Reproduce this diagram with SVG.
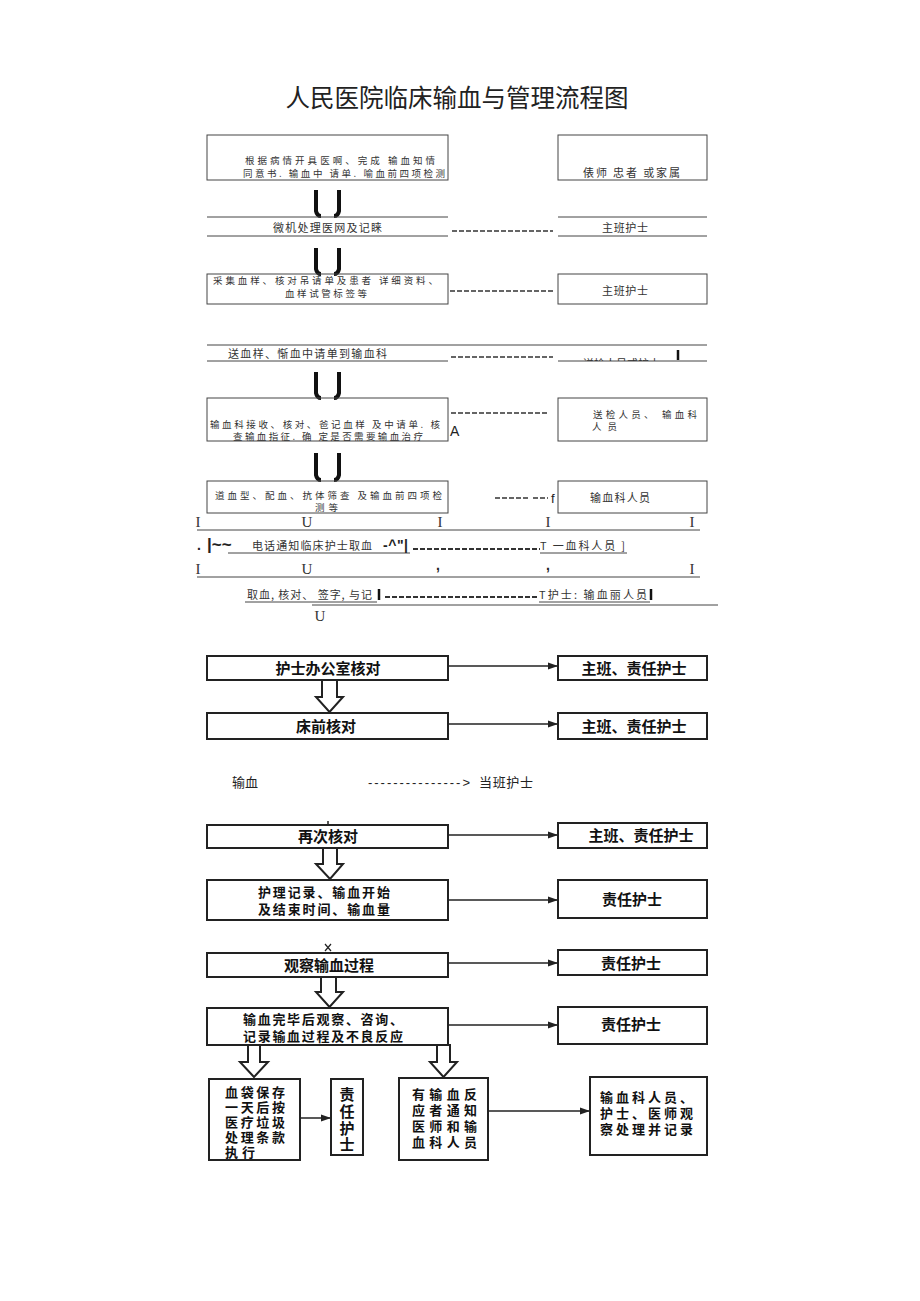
<svg xmlns="http://www.w3.org/2000/svg" width="920" height="1301" viewBox="0 0 920 1301">
<defs>
<marker id="ah" markerWidth="10" markerHeight="8" refX="9" refY="4" orient="auto" markerUnits="userSpaceOnUse">
<path d="M0,0.5 L10,4 L0,7.5 Z" fill="#222"/>
</marker>
<clipPath id="clip1"><rect x="550" y="340" width="160" height="21"/></clipPath>
</defs>
<style>
.t{font-family:"Noto Sans CJK SC","Noto Sans",sans-serif;font-size:11px;fill:#333}
.t2{font-family:"Noto Sans CJK SC","Noto Sans",sans-serif;font-size:9.5px;fill:#333}
.s{font-family:"Liberation Serif",serif;font-size:15px;fill:#333}
.l{font-family:"Liberation Sans",sans-serif;font-size:14px;fill:#222}
.h{font-family:"Noto Sans CJK SC",sans-serif;font-size:13px;fill:#222}
.b{font-family:"Noto Sans CJK SC",sans-serif;font-size:15px;font-weight:bold;fill:#111}
.b2{font-family:"Noto Sans CJK SC",sans-serif;font-size:13px;font-weight:bold;fill:#111}
.bx{fill:none;stroke:#444;stroke-width:1}
.ln{stroke:#444;stroke-width:1}
.ds{stroke:#333;stroke-width:1.5;stroke-dasharray:5 2}
.ua{fill:none;stroke:#111;stroke-width:4}
.bb{fill:#fff;stroke:#222;stroke-width:2}
.ha{fill:#fff;stroke:#222;stroke-width:2}
.ar{stroke:#222;stroke-width:1.5;fill:none;marker-end:url(#ah)}
.bar{stroke:#111;stroke-width:2.5}
</style>
<rect width="920" height="1301" fill="#fff"/>
<text id="title" x="457" y="107" text-anchor="middle" style="font-family:'Noto Sans CJK SC',sans-serif;font-size:24.5px;fill:#222">人民医院临床输血与管理流程图</text>

<g id="connectors">
  <path class="ua" d="M316,190 L316,211 Q317,216 321,216 M339,190 L339,211 Q338,216 334,216"/>
  <path class="ua" d="M316,248 L316,269 Q317,274 321,274 M339,248 L339,269 Q338,274 334,274"/>
  <path class="ua" d="M316,372 L316,393 Q317,398 321,398 M339,372 L339,393 Q338,398 334,398"/>
  <path class="ua" d="M316,453 L316,475 Q317,480 321,480 M339,453 L339,475 Q338,480 334,480"/>
  <line class="ds" x1="452" y1="231" x2="553" y2="231"/>
  <line class="ds" x1="450" y1="291" x2="553" y2="291"/>
  <line class="ds" x1="451" y1="357" x2="553" y2="357"/>
  <line class="ds" x1="451" y1="413" x2="547" y2="413"/>
  <line class="ds" x1="495" y1="498" x2="528" y2="498"/>
  <line class="ds" x1="533" y1="498" x2="548" y2="498"/>
  <line class="ds" x1="413" y1="549" x2="540" y2="549" style="stroke-width:2"/>
  <line class="ds" x1="385" y1="597" x2="538" y2="597" style="stroke-width:2"/>
  <polygon class="ha" points="322,680 337,680 337,697 343,697 329.5,712 316,697 322,697"/>
  <polygon class="ha" points="323,848 337,848 337,864 343,864 330,879 316,864 323,864"/>
  <polygon class="ha" points="321,977 336,977 336,992 343,992 329.5,1007 316,992 321,992"/>
  <polygon class="ha" points="248,1045 260,1045 260,1062 268,1062 254,1077 240,1062 248,1062"/>
  <polygon class="ha" points="437,1045 450,1045 450,1062 457,1062 443.5,1077 430,1062 437,1062"/>
  <line class="ar" x1="449" y1="666" x2="557" y2="666"/>
  <line class="ar" x1="449" y1="724" x2="557" y2="724"/>
  <line class="ar" x1="449" y1="835" x2="557" y2="835"/>
  <line class="ar" x1="449" y1="900" x2="557" y2="900"/>
  <line class="ar" x1="449" y1="963" x2="557" y2="963"/>
  <line class="ar" x1="449" y1="1025" x2="557" y2="1025"/>
  <line class="ar" x1="301" y1="1118" x2="330" y2="1118"/>
  <line class="ar" x1="489" y1="1111" x2="589" y2="1111"/>
  <line stroke="#222" stroke-width="1.5" x1="328" y1="821" x2="328" y2="825"/>
  <path d="M325,944 L331,951 M331,944 L325,951" stroke="#222" stroke-width="1.2" fill="none"/>
</g>

<g id="n1">
  <rect class="bx" x="207" y="135" width="241" height="45"/>
  <text class="t2" x="245" y="164" textLength="190" lengthAdjust="spacing">根据病情开具医啊、完成 输血知情</text>
  <text class="t2" x="243" y="177" textLength="202" lengthAdjust="spacing">同意书. 输血中 请单. 喻血前四项检测</text>
</g>
<g id="n1r">
  <rect class="bx" x="558" y="135" width="149" height="45"/>
  <text class="t" x="583" y="177" textLength="97" lengthAdjust="spacing">俵师 忠者 或家属</text>
</g>
<g id="n2">
  <line class="ln" x1="207" y1="217" x2="448" y2="217"/>
  <line class="ln" x1="207" y1="236" x2="448" y2="236"/>
  <text class="t" x="273" y="232" textLength="109" lengthAdjust="spacing">微机处理医网及记睐</text>
</g>
<g id="n2r">
  <line class="ln" x1="558" y1="217" x2="707" y2="217"/>
  <line class="ln" x1="558" y1="236" x2="707" y2="236"/>
  <text class="t" x="602" y="232" textLength="46" lengthAdjust="spacing">主班护士</text>
</g>
<g id="n3">
  <rect class="bx" x="207" y="274" width="241" height="30"/>
  <text class="t2" x="213" y="284" textLength="225" lengthAdjust="spacing">采集血样、核对吊请单及患者 详细资料、</text>
  <text class="t2" x="285" y="297" textLength="82" lengthAdjust="spacing">血样试管标签等</text>
</g>
<g id="n3r">
  <rect class="bx" x="558" y="274" width="149" height="30"/>
  <text class="t" x="602" y="295" textLength="46" lengthAdjust="spacing">主班护士</text>
</g>
<g id="n4">
  <line class="ln" x1="207" y1="345" x2="707" y2="345"/>
  <line class="ln" x1="207" y1="361" x2="448" y2="361"/>
  <text class="t" x="228" y="358" textLength="159" lengthAdjust="spacing">送血样、惭血中请单到输血科</text>
</g>
<g id="n4r">
  <line class="ln" x1="558" y1="361" x2="707" y2="361"/>
  <text class="t" x="583" y="368" textLength="77" lengthAdjust="spacing" clip-path="url(#clip1)">送检人员或护士</text>
  <line class="bar" x1="678" y1="350" x2="678" y2="360"/>
</g>
<g id="n5">
  <rect class="bx" x="207" y="398" width="241" height="43"/>
  <text class="t2" x="210" y="428" textLength="230" lengthAdjust="spacing">输血科接收、核对、爸记血样 及中请单. 核</text>
  <text class="t2" x="233" y="440" textLength="190" lengthAdjust="spacing">查输血指征. 确 定是否需要输血治疗</text>
  <text class="l" x="450" y="436">A</text>
</g>
<g id="n5r">
  <rect class="bx" x="558" y="398" width="149" height="43"/>
  <text class="t2" x="593" y="418" textLength="104" lengthAdjust="spacing">送检人员、 输血科</text>
  <text class="t2" x="592" y="430" textLength="25" lengthAdjust="spacing">人员</text>
</g>
<g id="n6">
  <rect class="bx" x="207" y="481" width="241" height="32"/>
  <text class="t2" x="215" y="499" textLength="227" lengthAdjust="spacing">道血型、配血、抗体筛查 及输血前四项检</text>
  <text class="t2" x="315" y="511" textLength="23" lengthAdjust="spacing">测等</text>
  <text class="l" x="551" y="503" style="font-size:13px">f</text>
</g>
<g id="n6r">
  <rect class="bx" x="558" y="481" width="149" height="32"/>
  <text class="t" x="590" y="502" textLength="60" lengthAdjust="spacing">输血科人员</text>
</g>
<g id="n7">
  <text class="s" x="198" y="527" text-anchor="middle">I</text>
  <text class="s" x="307" y="527" text-anchor="middle">U</text>
  <text class="s" x="440" y="527" text-anchor="middle">I</text>
  <text class="s" x="548" y="527" text-anchor="middle">I</text>
  <text class="s" x="692" y="527" text-anchor="middle">I</text>
  <line class="ln" x1="197" y1="530" x2="700" y2="530"/>
  <text class="l" x="197" y="550" style="font-weight:bold">.</text>
  <text class="l" x="207" y="550" style="font-weight:bold;font-size:17px">|~~</text>
  <text class="t" x="252" y="550" textLength="120" lengthAdjust="spacing">电话通知临床护士取血</text>
  <line class="ln" x1="228" y1="553" x2="410" y2="553"/>
  <text class="l" x="383" y="550" style="font-weight:bold" textLength="25" lengthAdjust="spacing">-^"|</text>
  <text class="t" x="540" y="550" textLength="85" lengthAdjust="spacing">T 一血科人员 ]</text>
  <line class="ln" x1="540" y1="553" x2="627" y2="553"/>
  <text class="s" x="198" y="574" text-anchor="middle">I</text>
  <text class="s" x="307" y="574" text-anchor="middle">U</text>
  <text class="l" x="436" y="570" style="font-weight:bold">,</text>
  <text class="l" x="546" y="570" style="font-weight:bold">,</text>
  <text class="s" x="692" y="574" text-anchor="middle">I</text>
  <line class="ln" x1="197" y1="577" x2="700" y2="577"/>
</g>
<g id="n8">
  <text class="t" x="247" y="599" textLength="125" lengthAdjust="spacing">取血, 核对、 签字, 与记</text>
  <line class="ln" x1="245" y1="602" x2="377" y2="602"/>
  <line class="bar" x1="379" y1="589" x2="379" y2="600"/>
  <text class="t" x="539" y="599" textLength="108" lengthAdjust="spacing">T护士: 输血丽人员</text>
  <line class="ln" x1="539" y1="602" x2="650" y2="602"/>
  <line class="bar" x1="651" y1="589" x2="651" y2="600"/>
  <line class="ln" x1="312" y1="605" x2="718" y2="605"/>
  <text class="s" x="320" y="621" text-anchor="middle">U</text>
</g>

<g id="b1">
  <rect class="bb" x="207" y="656" width="241" height="24"/>
  <text class="b" x="328" y="674" text-anchor="middle">护士办公室核对</text>
</g>
<g id="b1r">
  <rect class="bb" x="558" y="656" width="149" height="24"/>
  <text class="b" x="634" y="674" text-anchor="middle">主班、责任护士</text>
</g>
<g id="b2">
  <rect class="bb" x="207" y="713" width="241" height="26"/>
  <text class="b" x="326" y="732" text-anchor="middle">床前核对</text>
</g>
<g id="b2r">
  <rect class="bb" x="558" y="713" width="149" height="26"/>
  <text class="b" x="634" y="732" text-anchor="middle">主班、责任护士</text>
</g>
<g id="b3">
  <text class="h" x="232" y="787">输血</text>
  <text class="l" x="368" y="787" style="font-size:13px" textLength="102" lengthAdjust="spacing">---------------&gt;</text>
  <text class="h" x="479" y="787" textLength="54" lengthAdjust="spacing">当班护士</text>
</g>
<g id="b4">
  <rect class="bb" x="207" y="825" width="241" height="23"/>
  <text class="b" x="328" y="842" text-anchor="middle">再次核对</text>
</g>
<g id="b4r">
  <rect class="bb" x="558" y="823" width="149" height="25"/>
  <text class="b" x="641" y="841" text-anchor="middle">主班、责任护士</text>
</g>
<g id="b5">
  <rect class="bb" x="207" y="880" width="241" height="40"/>
  <text class="b2" x="324" y="897" text-anchor="middle" textLength="132" lengthAdjust="spacing">护理记录、输血开始</text>
  <text class="b2" x="324" y="914" text-anchor="middle" textLength="132" lengthAdjust="spacing">及结束时间、输血量</text>
</g>
<g id="b5r">
  <rect class="bb" x="558" y="880" width="149" height="38"/>
  <text class="b" x="632" y="905" text-anchor="middle">责任护士</text>
</g>
<g id="b6">
  <rect class="bb" x="207" y="953" width="241" height="24"/>
  <text class="b" x="329" y="971" text-anchor="middle">观察输血过程</text>
</g>
<g id="b6r">
  <rect class="bb" x="558" y="950" width="149" height="25"/>
  <text class="b" x="631" y="969" text-anchor="middle">责任护士</text>
</g>
<g id="b7">
  <rect class="bb" x="207" y="1008" width="241" height="37"/>
  <text class="b2" x="243" y="1024" textLength="160" lengthAdjust="spacing">输血完毕后观察、咨询、</text>
  <text class="b2" x="243" y="1041" textLength="160" lengthAdjust="spacing">记录输血过程及不良反应</text>
</g>
<g id="b7r">
  <rect class="bb" x="558" y="1007" width="149" height="37"/>
  <text class="b" x="631" y="1030" text-anchor="middle">责任护士</text>
</g>
<g id="b8">
  <rect class="bb" x="209" y="1079" width="91" height="81"/>
  <text class="b2" x="225" y="1097" textLength="60" lengthAdjust="spacing">血袋保存</text>
  <text class="b2" x="225" y="1112" textLength="60" lengthAdjust="spacing">一天后按</text>
  <text class="b2" x="225" y="1127" textLength="60" lengthAdjust="spacing">医疗垃圾</text>
  <text class="b2" x="225" y="1142" textLength="60" lengthAdjust="spacing">处理条款</text>
  <text class="b2" x="225" y="1157" textLength="30" lengthAdjust="spacing">执行</text>
</g>
<g id="b9">
  <rect class="bb" x="331" y="1079" width="32" height="76"/>
  <text class="b" x="347" y="1100" text-anchor="middle">责</text>
  <text class="b" x="347" y="1117" text-anchor="middle">任</text>
  <text class="b" x="347" y="1134" text-anchor="middle">护</text>
  <text class="b" x="347" y="1150" text-anchor="middle">士</text>
</g>
<g id="b10">
  <rect class="bb" x="399" y="1078" width="89" height="82"/>
  <text class="b2" x="412" y="1099" textLength="65" lengthAdjust="spacing">有输血反</text>
  <text class="b2" x="412" y="1115" textLength="65" lengthAdjust="spacing">应者通知</text>
  <text class="b2" x="412" y="1131" textLength="65" lengthAdjust="spacing">医师和输</text>
  <text class="b2" x="412" y="1147" textLength="65" lengthAdjust="spacing">血科人员</text>
</g>
<g id="b11">
  <rect class="bb" x="590" y="1077" width="117" height="78"/>
  <text class="b2" x="600" y="1102" textLength="93" lengthAdjust="spacing">输血科人员、</text>
  <text class="b2" x="600" y="1118" textLength="93" lengthAdjust="spacing">护士、医师观</text>
  <text class="b2" x="600" y="1134" textLength="93" lengthAdjust="spacing">察处理并记录</text>
</g>
</svg>
